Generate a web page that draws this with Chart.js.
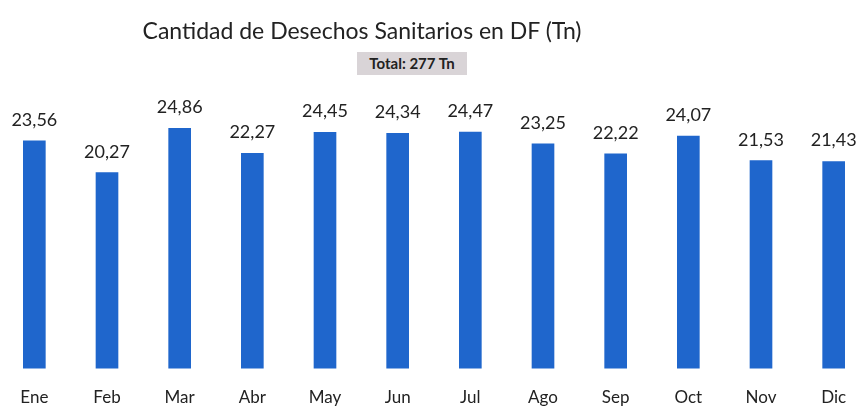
<!DOCTYPE html>
<html>
<head>
<meta charset="utf-8">
<script src="https://cdn.jsdelivr.net/npm/chart.js@4"></script>
<style>
  body { margin: 0; background: #fff; }
  #wrap { position: relative; width: 859px; height: 407px; overflow: hidden; background: #fff; }
  #title { position: absolute; left: 0; width: 724px; top: 16px; text-align: center;
           font-family: Lato, sans-serif; font-size: 23px; color: #222; }
  #total { position: absolute; left: 357px; top: 52px; width: 110px; height: 23px; line-height: 23px;
           text-align: center; background: #d9d4d7; font-family: Lato, sans-serif; font-weight: bold;
           font-size: 15px; color: #222; }
  #box { position: absolute; left: -2px; top: 0; }
</style>
</head>
<body>
<div id="wrap">
  <div id="box"><canvas id="wasteChart" width="872" height="428"></canvas></div>
  <div id="title">Cantidad de Desechos Sanitarios en DF (Tn)</div>
  <div id="total">Total: 277 Tn</div>
</div>
<script>
const months = ["Ene", "Feb", "Mar", "Abr", "May", "Jun", "Jul", "Ago", "Sep", "Oct", "Nov", "Dic"];
const tonnes = [23.56, 20.27, 24.86, 22.27, 24.45, 24.34, 24.47, 23.25, 22.22, 24.07, 21.53, 21.43];

// value labels above each bar, decimal comma
const barLabels = {
    id: "barLabels",
    afterDatasetsDraw(chart) {
        const ctx = chart.ctx;
        ctx.save();
        ctx.font = "18px Lato";
        ctx.fillStyle = "#222";
        ctx.textAlign = "center";
        ctx.textBaseline = "alphabetic";
        chart.getDatasetMeta(0).data.forEach((bar, i) => {
            ctx.fillText(tonnes[i].toFixed(2).replace(".", ","), bar.x, bar.y - 15);
        });
        ctx.restore();
    }
};

const chartConfig = {
    type: "bar",
    data: {
        labels: months,
        datasets: [{
            data: tonnes,
            backgroundColor: "#1f66cc",
            barThickness: 22
        }]
    },
    options: {
        responsive: false,
        animation: false,
        devicePixelRatio: 1,
        layout: { padding: { top: 98, left: 0, right: 0, bottom: 1 } },
        plugins: { legend: { display: false }, tooltip: { enabled: false } },
        scales: {
            x: {
                grid: { display: false, drawTicks: false },
                border: { display: false },
                ticks: { color: "#222", font: { family: "Lato", size: 17 }, padding: 19 }
            },
            y: { display: false, min: 0, max: 28 }
        }
    },
    plugins: [barLabels]
};

const wasteChart = new Chart(document.getElementById("wasteChart"), chartConfig);
</script>
</body>
</html>
